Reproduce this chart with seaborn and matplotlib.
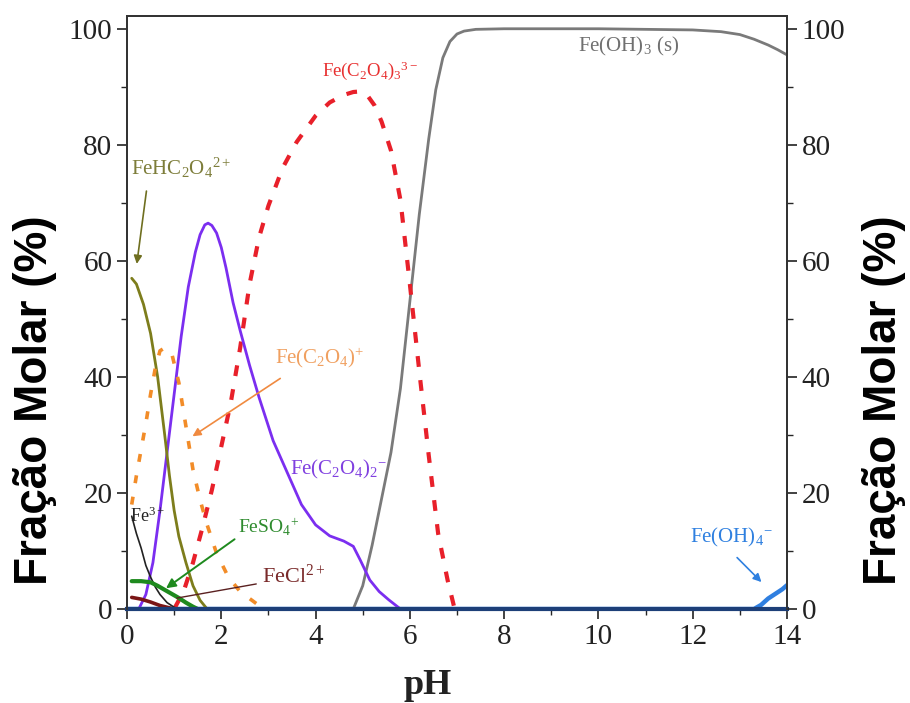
import numpy as np
import pandas as pd
import matplotlib
matplotlib.use("Agg")
import matplotlib.pyplot as plt
import seaborn as sns
from matplotlib.ticker import MultipleLocator

# === Data (pH, molar fraction %) ===
ph_feoh3 = [4.8, 5.0, 5.2, 5.4, 5.6, 5.8, 6.0, 6.2, 6.4, 6.55, 6.7, 6.85, 7.0, 7.15, 7.4, 8.0, 10.0, 12.0, 12.6, 13.0, 13.3, 13.6, 13.8, 14.0]
feoh3 = [0, 4, 11, 19, 27, 38, 53, 68, 81, 89.5, 95.0, 97.8, 99.1, 99.6, 99.9, 100, 100, 99.8, 99.5, 99.0, 98.2, 97.2, 96.4, 95.5]

ph_ox3 = [1.0, 1.2, 1.4, 1.6, 1.8, 2.0, 2.2, 2.4, 2.6, 2.8, 3.0, 3.3, 3.6, 4.0, 4.3, 4.6, 4.8, 4.95, 5.1, 5.25, 5.4, 5.6, 5.8, 6.0, 6.2, 6.4, 6.6, 6.8, 6.95]
ox3 = [0, 3, 8, 14, 20.5, 28, 35.5, 45, 56, 64, 69.5, 76, 80.5, 85, 87.3, 88.6, 89.1, 89.2, 88.5, 86.8, 84, 79, 70.5, 56, 41, 26.5, 13, 5, 0]

ph_ox2 = [0.25, 0.4, 0.55, 0.7, 0.85, 1.0, 1.15, 1.3, 1.45, 1.55, 1.65, 1.72, 1.8, 1.9, 2.0, 2.1, 2.25, 2.4, 2.6, 2.8, 3.1, 3.4, 3.7, 4.0, 4.3, 4.6, 4.8, 4.95, 5.15, 5.35, 5.55, 5.8]
ox2 = [0, 2.5, 8, 17, 27, 37, 47, 55.5, 61.5, 64.5, 66.2, 66.5, 66.1, 64.8, 62.3, 58.8, 52.8, 48, 42, 36.5, 29, 23.5, 18, 14.5, 12.6, 11.7, 10.8, 8.4, 5, 3, 1.6, 0]

ph_hox = [0.1, 0.2, 0.35, 0.5, 0.65, 0.8, 0.9, 1.0, 1.1, 1.25, 1.4, 1.55, 1.7]
hox = [57, 56, 52.5, 47.5, 40, 30, 23, 17, 12.5, 8, 4, 1.5, 0]

ph_ox1 = [0.1, 0.2, 0.3, 0.4, 0.5, 0.6, 0.7, 0.8, 0.95, 1.1, 1.2, 1.3, 1.4, 1.55, 1.7, 1.9, 2.15, 2.4, 2.7, 2.9]
ox1 = [18, 23, 27.5, 32, 37, 41.5, 44.5, 45, 44, 39, 34, 29, 24, 18.8, 14.5, 9.6, 5.5, 3, 1.2, 0]

ph_fe3 = [0.1, 0.2, 0.3, 0.4, 0.5, 0.6, 0.7, 0.85, 1.0, 1.1]
fe3 = [16, 13, 10.5, 7.5, 5.5, 3.8, 2.5, 1.1, 0.3, 0]

ph_so4 = [0.1, 0.3, 0.5, 0.65, 0.8, 0.95, 1.1, 1.25, 1.4, 1.5]
so4 = [4.8, 4.8, 4.6, 4.0, 3.3, 2.6, 1.9, 1.1, 0.4, 0]

ph_cl = [0.1, 0.3, 0.5, 0.7, 0.9, 1.0]
cl = [2.0, 1.7, 1.2, 0.6, 0.2, 0]

ph_oh4 = [0.0, 13.3, 13.45, 13.6, 13.75, 13.9, 14.0]
oh4 = [0, 0, 0.7, 1.8, 2.6, 3.4, 4.1]

# === Style ===
sns.set_style("ticks")
plt.rcParams['font.family'] = ['Liberation Serif', 'DejaVu Serif']
plt.rcParams['mathtext.fontset'] = 'custom'
plt.rcParams['mathtext.rm'] = 'Liberation Serif'
plt.rcParams['mathtext.it'] = 'Liberation Serif:italic'
plt.rcParams['mathtext.bf'] = 'Liberation Serif:bold'

fig = plt.figure(figsize=(9.1, 7.03), dpi=100)
ax = fig.add_axes([127 / 910, 1 - 609 / 703, 660 / 910, 593 / 703])

# === Curves ===
sns.lineplot(x=ph_oh4, y=oh4, ax=ax, color='#2f7fe0', lw=3.2, zorder=2)
sns.lineplot(x=ph_feoh3, y=feoh3, ax=ax, color='#7a7a7a', lw=2.0)
sns.lineplot(x=ph_ox3, y=ox3, ax=ax, color='#e8202a', lw=3.0, linestyle=(0, (2.6, 3.2)))
sns.lineplot(x=ph_ox2, y=ox2, ax=ax, color='#7b2ef0', lw=2.0)
sns.lineplot(x=ph_hox, y=hox, ax=ax, color='#7d7d1c', lw=2.0)
sns.lineplot(x=ph_ox1, y=ox1, ax=ax, color='#f28c28', lw=2.6, linestyle=(0, (2.2, 3.8)))
sns.lineplot(x=ph_fe3, y=fe3, ax=ax, color='#222222', lw=1.2)
sns.lineplot(x=ph_so4, y=so4, ax=ax, color='#1e8a1e', lw=3.0)
sns.lineplot(x=ph_cl, y=cl, ax=ax, color='#7a1515', lw=2.6)

# === Labels on the curves ===
fs = 15
ax.text(0.08, 76, 'FeHC$_2$O$_4$$^{2+}$', color='#7d7d3a', fontsize=fs, va='center')
ax.annotate('', xy=(0.2, 59), xytext=(0.42, 72.5),
            arrowprops=dict(arrowstyle='-|>', color='#6f6f20', lw=1.2, mutation_scale=12))
ax.text(4.13, 92.8, 'Fe(C$_2$O$_4$)$_3$$^{3-}$', color='#e83030', fontsize=13.5, va='center')
ax.text(9.57, 97.0, 'Fe(OH)$_3$ (s)', color='#707070', fontsize=fs, va='center')
ax.text(3.14, 43.3, 'Fe(C$_2$O$_4$)$^{+}$', color='#f0a060', fontsize=fs, va='center')
ax.annotate('', xy=(1.34, 29.5), xytext=(3.3, 40.0),
            arrowprops=dict(arrowstyle='-|>', color='#f08a40', lw=1.2, mutation_scale=12))
ax.text(3.46, 24, 'Fe(C$_2$O$_4$)$_2$$^{-}$', color='#8040e0', fontsize=fs, va='center')
ax.text(0.06, 15.9, 'Fe$^{3+}$', color='#222222', fontsize=13, va='center')
ax.text(2.35, 14.1, 'FeSO$_4$$^{+}$', color='#2e8b2e', fontsize=14, va='center')
ax.annotate('', xy=(0.78, 3.3), xytext=(2.33, 12.3),
            arrowprops=dict(arrowstyle='-|>', color='#1e8a1e', lw=1.4, mutation_scale=14))
ax.text(2.86, 5.6, 'FeCl$^{2+}$', color='#7a2a2a', fontsize=16, va='center')
ax.annotate('', xy=(1.0, 1.8), xytext=(2.8, 4.4),
            arrowprops=dict(arrowstyle='-', color='#5a2020', lw=1.0))
ax.text(11.94, 12.4, 'Fe(OH)$_4$$^{-}$', color='#2f80e0', fontsize=fs, va='center')
ax.annotate('', xy=(13.5, 4.3), xytext=(12.9, 9.2),
            arrowprops=dict(arrowstyle='-|>', color='#2f80e0', lw=1.2, mutation_scale=12))

# === Axes ===
ax.set_xlim(0, 14)
ax.set_ylim(0, 102.2)
ax.xaxis.set_major_locator(MultipleLocator(2))
ax.xaxis.set_minor_locator(MultipleLocator(1))
ax.yaxis.set_major_locator(MultipleLocator(20))
ax.yaxis.set_minor_locator(MultipleLocator(10))
ax.tick_params(axis='both', which='major', direction='out', length=7, width=1.2, labelsize=21, colors='#222222')
ax.tick_params(axis='both', which='minor', direction='out', length=4, width=1.0)
ax.tick_params(top=False, right=False, which='both')
for s in ax.spines.values():
    s.set_visible(True)
    s.set_color('#333333')
    s.set_linewidth(1.3)
# the zero baseline looks like a thick navy band in the original
ax.spines['bottom'].set_color('#1d3f78')
ax.spines['bottom'].set_linewidth(3.0)

ax.set_xlabel('pH', fontsize=26, fontweight='bold', family='Liberation Serif', color='#222222')
ax.xaxis.set_label_coords(0.456, -0.102)

ylab = dict(fontsize=33, fontweight='bold', family=['Liberation Sans', 'DejaVu Sans'], color='black')
ax.set_ylabel('Fração Molar (%)', **ylab)
ax.yaxis.set_label_coords(-0.106, 0.352)

ax2 = ax.twinx()
ax2.set_ylim(0, 102.2)
ax2.yaxis.set_major_locator(MultipleLocator(20))
ax2.yaxis.set_minor_locator(MultipleLocator(10))
ax2.tick_params(axis='y', which='major', direction='out', length=7, width=1.2, labelsize=21, colors='#222222')
ax2.tick_params(axis='y', which='minor', direction='out', length=4, width=1.0)
for s in ax2.spines.values():
    s.set_color('#333333')
    s.set_linewidth(1.3)
ax2.spines['bottom'].set_visible(False)
ax2.set_ylabel('Fração Molar (%)', **ylab)
ax2.yaxis.set_label_coords(1.114, 0.352)

fig.savefig('out.png', dpi=100)
